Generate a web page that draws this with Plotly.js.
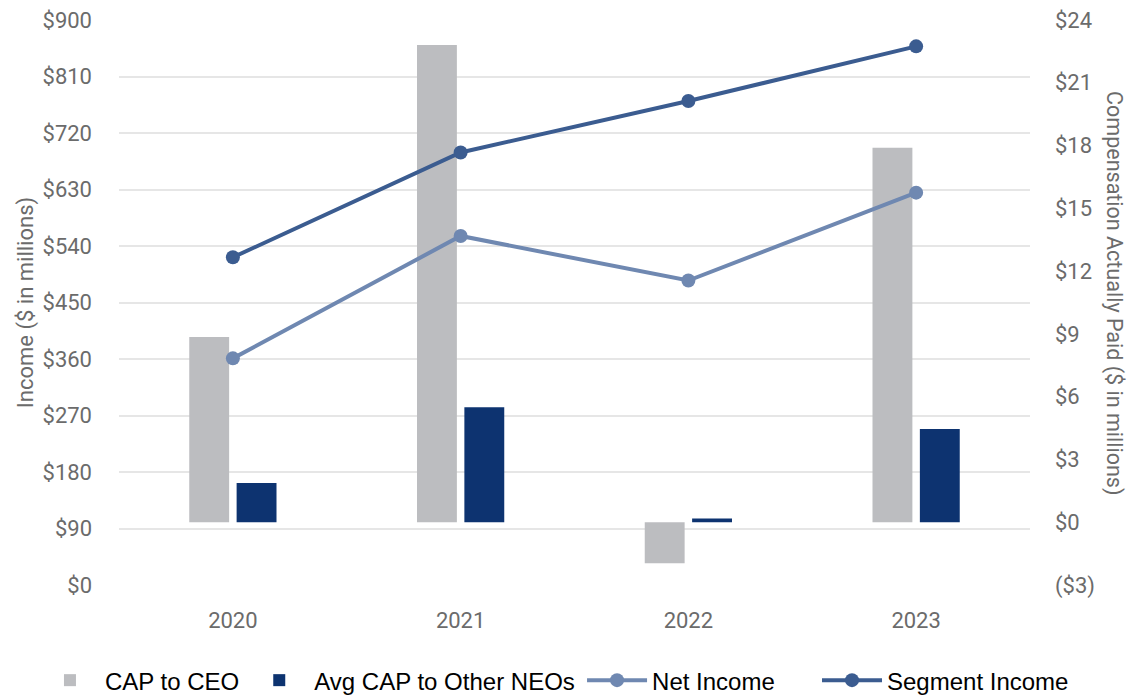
<!DOCTYPE html>
<html>
<head>
<meta charset="utf-8">
<script src="https://cdn.plot.ly/plotly-3.0.1.min.js"></script>
<style>html,body{margin:0;padding:0;background:#fff;}#chart{width:1128px;height:698px;}</style>
</head>
<body>
<div id="chart"></div>
<script>
const years = ['2020', '2021', '2022', '2023'];
const capCeo = [8.85, 22.8, -1.96, 17.9];
const capNeo = [1.87, 5.49, 0.18, 4.45];
const netIncome = [361, 556, 485, 625];
const segmentIncome = [522, 689, 771, 858];
const leftTickVals = [0, 90, 180, 270, 360, 450, 540, 630, 720, 810, 900];
const leftTickText = ['$0', '$90', '$180', '$270', '$360', '$450', '$540', '$630', '$720', '$810', '$900'];
const rightTickVals = [-3, 0, 3, 6, 9, 12, 15, 18, 21, 24];
const rightTickText = ['($3)', '$0', '$3', '$6', '$9', '$12', '$15', '$18', '$21', '$24'];
const leftTitle = 'Income ($ in millions)';
const rightTitle = 'Compensation Actually Paid ($ in millions)';

const textGray = '#6b6b6b';
const tickFont = {family: 'Roboto, sans-serif', size: 22, color: textGray};
const titleFont = {family: 'Roboto, sans-serif', size: 22, color: textGray};
const legendFont = {family: 'Liberation Sans, Arial, sans-serif', size: 24, color: '#000'};

const traces = [
  {type: 'bar', name: 'CAP to CEO', x: years, y: capCeo, yaxis: 'y', legend: 'legend', marker: {color: '#BCBDC0'}},
  {type: 'bar', name: 'Avg CAP to Other NEOs', x: years, y: capNeo, yaxis: 'y', legend: 'legend', marker: {color: '#0D3370'}},
  {type: 'scatter', mode: 'lines+markers', name: 'Net Income', x: years, y: netIncome, yaxis: 'y2', legend: 'legend2',
   line: {color: '#6F88B1', width: 4}, marker: {color: '#6F88B1', size: 14}},
  {type: 'scatter', mode: 'lines+markers', name: 'Segment Income', x: years, y: segmentIncome, yaxis: 'y2', legend: 'legend3',
   line: {color: '#3B5C90', width: 4}, marker: {color: '#3B5C90', size: 14}}
];

const legendBase = {
  orientation: 'h', xref: 'container', yref: 'container', xanchor: 'left',
  y: 0.025, yanchor: 'middle', traceorder: 'normal', font: legendFont, itemwidth: 60
};

const layout = {
  width: 1128, height: 698,
  margin: {l: 119, r: 98, t: 20, b: 113},
  paper_bgcolor: '#fff', plot_bgcolor: '#fff',
  barmode: 'group', bargap: 0.584, bargroupgap: 0.158,
  showlegend: true,
  font: {family: 'Roboto, sans-serif', color: textGray},
  xaxis: {
    type: 'category', tickfont: tickFont, showgrid: false, zeroline: false,
    ticks: '', ticklabelstandoff: 20, showline: false
  },
  yaxis: {
    side: 'right', range: [-3, 24], tickvals: rightTickVals, ticktext: rightTickText,
    tickfont: tickFont, showgrid: false, zeroline: false, ticks: '', ticklabelstandoff: 24
  },
  yaxis2: {
    overlaying: 'y', side: 'left', range: [0, 900], tickvals: leftTickVals, ticktext: leftTickText,
    tickfont: tickFont, showgrid: true, gridcolor: '#e6e6e6', gridwidth: 2, zeroline: false,
    ticks: '', ticklabelstandoff: 26,
    title: {text: leftTitle, font: titleFont, standoff: 2}
  },
  annotations: [
    {text: rightTitle, xref: 'paper', yref: 'paper', x: 1.092, y: 0.517, xanchor: 'center', yanchor: 'middle',
     textangle: 90, showarrow: false, font: {family: 'Roboto, sans-serif', size: 21.5, color: textGray}}
  ],
  legend: Object.assign({}, legendBase, {x: 0.031}),
  legend2: Object.assign({}, legendBase, {x: 0.516}),
  legend3: Object.assign({}, legendBase, {x: 0.7243})
};

Plotly.newPlot('chart', traces, layout, {displayModeBar: false, staticPlot: true});
</script>
</body>
</html>
